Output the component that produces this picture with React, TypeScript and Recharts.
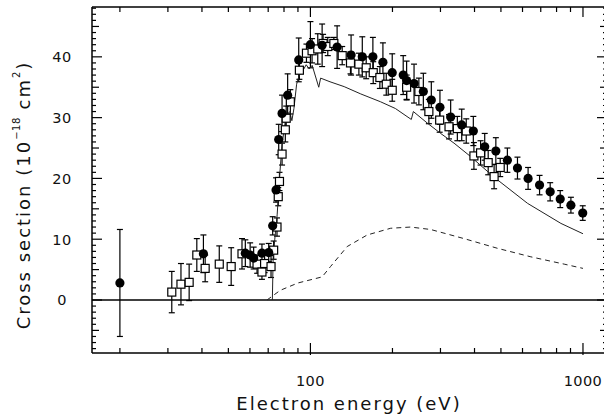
import React from 'react';
import { ComposedChart, Scatter, XAxis, YAxis, ErrorBar, ReferenceLine, Label } from 'recharts';

// filled circles
const circleEnergy = [20, 40.5, 57.7, 60.1, 61.9, 66.4, 70.3, 72.7, 74.8, 76.5, 78.7, 82.5, 90.6, 100, 110.4, 125.3, 141, 155, 169.5, 184.5, 199.6, 219, 225.4, 240, 259.6, 277.7, 298.7, 327, 359, 396, 436, 479, 528, 575, 629, 693, 758, 825, 903, 998];
const circleSigma = [2.8, 7.6, 7.7, 7.4, 6.9, 7.7, 7.8, 12.2, 18.1, 26.4, 30.7, 33.7, 39.5, 42.0, 41.9, 41.6, 40.3, 40.0, 40.0, 39.1, 37.4, 37.0, 36.1, 35.6, 34.3, 32.9, 31.7, 30.1, 28.8, 27.8, 25.2, 24.5, 23.0, 21.7, 20.0, 18.9, 17.8, 16.6, 15.6, 14.3];
const circleErr = [8.8, 3.1, 2.2, 2.0, 1.8, 1.5, 1.5, 1.5, 2.0, 2.5, 3.0, 3.5, 3.6, 3.8, 3.5, 3.5, 3.3, 3.3, 3.2, 3.2, 3.1, 3.2, 3.2, 3.2, 3.0, 3.0, 2.8, 2.8, 2.6, 2.4, 2.2, 2.2, 2.0, 1.8, 1.8, 1.6, 1.5, 1.4, 1.3, 1.2];

// open squares
const squareEnergy = [31.0, 33.5, 35.9, 38.3, 41.1, 46.3, 51.2, 56.1, 63.7, 66.4, 67.9, 71.7, 73.3, 75.4, 76.2, 77.0, 78.7, 80.9, 81.5, 84.4, 91.1, 96.7, 101.4, 106.4, 111.3, 115.8, 121.9, 130.8, 140.3, 150.6, 160.2, 170, 179.8, 189.8, 199.6, 225.4, 250, 272, 298, 322.5, 346, 373, 398, 421, 449, 472, 497];
const squareSigma = [1.3, 2.6, 2.9, 7.4, 5.2, 5.9, 5.5, 7.6, 5.9, 4.6, 6.0, 5.5, 8.2, 12.0, 17.0, 19.5, 24.0, 28.0, 29.9, 32.6, 37.8, 40.6, 41.0, 41.3, 42.2, 41.7, 42.2, 40.2, 39.0, 38.8, 38.2, 37.4, 36.6, 35.5, 34.5, 35.0, 34.3, 31.0, 29.6, 28.5, 28.2, 27.8, 23.7, 24.2, 22.6, 20.3, 21.8];
const squareErr = [3.4, 3.4, 3.0, 2.7, 2.2, 3.0, 3.1, 2.5, 1.5, 1.2, 1.5, 1.8, 1.5, 1.5, 1.5, 1.5, 1.8, 2.0, 2.0, 2.0, 1.5, 1.5, 2.0, 2.5, 1.5, 1.5, 1.0, 1.5, 1.8, 1.8, 1.8, 1.8, 1.8, 1.8, 1.8, 2.0, 2.2, 2.0, 2.0, 2.0, 2.0, 2.0, 2.2, 2.0, 2.0, 2.0, 1.5];

// solid theory curve
const solidEnergy = [72.5, 73, 74, 75.5, 77, 78.5, 80, 82, 84, 85.5, 87, 89, 91, 93.5, 96.5, 99, 101.5, 107.3, 109, 118, 133, 153, 181, 205, 234.5, 238.6, 268.5, 300.5, 336.5, 387, 472, 626, 830, 1000];
const solidSigma = [0, 7, 10, 14, 20, 25, 28, 30.5, 31, 29.5, 31.5, 35.5, 37, 37.6, 38.7, 38.0, 38.6, 35.0, 36.5, 35.9, 35.1, 33.9, 32.6, 31.5, 29.7, 31.0, 29.1, 27.4, 25.8, 23.6, 20.2, 15.9, 12.6, 10.9];

// dashed curve
const dashedEnergy = [69.3, 73.3, 77.6, 90, 110.4, 118.5, 136.5, 161.6, 197, 233, 276, 366, 486, 644, 853, 1000];
const dashedSigma = [0, 0.8, 1.6, 2.8, 3.8, 5.5, 8.8, 10.7, 11.8, 12.0, 11.6, 10.1, 8.5, 7.1, 5.9, 5.2];

const xTicks = [20, 30, 40, 50, 60, 70, 80, 90, 100, 200, 300, 400, 500, 600, 700, 800, 900, 1000];
const xLabels = [100, 1000];
const yLabels = [0, 10, 20, 30, 40];
const yTicks = Array.from({ length: 57 }, (_, i) => i - 8);

const circles = circleEnergy.map((x, i) => ({ x, y: circleSigma[i], e: circleErr[i] }));
const squares = squareEnergy.map((x, i) => ({ x, y: squareSigma[i], e: squareErr[i] }));
const solid = solidEnergy.map((x, i) => ({ x, y: solidSigma[i] }));
const dashed = dashedEnergy.map((x, i) => ({ x, y: dashedSigma[i] }));

const FONT = '"DejaVu Sans", sans-serif';

const yLen = (v: number) => (v % 10 === 0 ? 10 : v % 5 === 0 ? 7 : 4);

const BottomTick = (props: any) => {
  const { x, y, payload } = props;
  const major = xLabels.includes(payload.value);
  return (
    <g>
      <line x1={x} x2={x} y1={major ? y + 2 : y} y2={y - (major ? 10 : 5)} stroke="#000" strokeWidth={1.2} />
      {major && (
        <text x={x} y={y + 33} textAnchor="middle" fontFamily={FONT} fontSize={14.5} fill="#111" letterSpacing={0.4}>
          {payload.value}
        </text>
      )}
    </g>
  );
};

const TopTick = (props: any) => {
  const { x, y, payload } = props;
  const major = xLabels.includes(payload.value);
  return <line x1={x} x2={x} y1={y} y2={y + (major ? 10 : 5)} stroke="#000" strokeWidth={1.2} />;
};

const LeftTick = (props: any) => {
  const { x, y, payload } = props;
  const v = payload.value;
  return (
    <g>
      <line x1={x} x2={x + yLen(v)} y1={y} y2={y} stroke="#000" strokeWidth={1.2} />
      {yLabels.includes(v) && (
        <text x={x - 30} y={y + 5.5} textAnchor="middle" fontFamily={FONT} fontSize={14.5} fill="#111" letterSpacing={0.4}>
          {v}
        </text>
      )}
    </g>
  );
};

const RightTick = (props: any) => {
  const { x, y, payload } = props;
  return <line x1={x} x2={x - yLen(payload.value)} y1={y} y2={y} stroke="#000" strokeWidth={1.2} />;
};

const XTitle = () => (
  <text x={349} y={410} textAnchor="middle" fontFamily={FONT} fontSize={18} fill="#111" letterSpacing={2}>
    Electron energy (eV)
  </text>
);

const YTitle = () => (
  <text x={23} y={195} transform="rotate(-90, 23, 195)" textAnchor="middle" dominantBaseline="central" fontFamily={FONT} fontSize={18} fill="#111" letterSpacing={2}>
    Cross section (10
    <tspan dy={-7} fontSize={10} letterSpacing={0.5}>−18</tspan>
    <tspan dy={7}> cm</tspan>
    <tspan dy={-7} fontSize={10}>2</tspan>
    <tspan dy={7}>)</tspan>
  </text>
);

const OpenSquare = (props: any) => {
  const { cx, cy } = props;
  return <rect x={cx - 4} y={cy - 4} width={8} height={8} fill="#fff" stroke="#000" strokeWidth={1.2} />;
};

const FilledCircle = (props: any) => {
  const { cx, cy } = props;
  return <circle cx={cx} cy={cy} r={4.6} fill="#000" />;
};

const NoDot = () => <g />;

export default function App() {
  return (
    <div style={{ position: 'absolute', left: 0, top: 0, width: 604, height: 420, overflow: 'hidden', background: '#fff' }}>
      <ComposedChart width={616} height={420} margin={{ top: 6, right: 8, bottom: 27, left: 32 }}>
        <XAxis
          xAxisId="b"
          orientation="bottom"
          dataKey="x"
          type="number"
          scale="log"
          domain={[15.8, 1225]}
          allowDataOverflow
          ticks={xTicks}
          interval={0}
          tickSize={0}
          tickMargin={0}
          tickLine={false}
          height={40}
          axisLine={{ stroke: '#000', strokeWidth: 1.5 }}
          tick={<BottomTick />}
        >
          <Label content={XTitle} />
        </XAxis>
        <XAxis
          xAxisId="t"
          orientation="top"
          dataKey="x"
          type="number"
          scale="log"
          domain={[15.8, 1225]}
          allowDataOverflow
          ticks={xTicks}
          interval={0}
          tickSize={0}
          tickMargin={0}
          tickLine={false}
          height={1}
          axisLine={{ stroke: '#000', strokeWidth: 1.5 }}
          tick={<TopTick />}
        />
        <YAxis
          yAxisId="l"
          orientation="left"
          dataKey="y"
          type="number"
          domain={[-8.72, 48.2]}
          allowDataOverflow
          ticks={yTicks}
          interval={0}
          tickSize={0}
          tickMargin={0}
          tickLine={false}
          width={60}
          axisLine={{ stroke: '#000', strokeWidth: 1.5 }}
          tick={<LeftTick />}
        >
          <Label content={YTitle} />
        </YAxis>
        <YAxis
          yAxisId="r"
          orientation="right"
          dataKey="y"
          type="number"
          domain={[-8.72, 48.2]}
          allowDataOverflow
          ticks={yTicks}
          interval={0}
          tickSize={0}
          tickMargin={0}
          tickLine={false}
          width={1}
          axisLine={{ stroke: '#000', strokeWidth: 1.5 }}
          tick={<RightTick />}
        />
        <ReferenceLine xAxisId="b" yAxisId="l" y={0} stroke="#000" strokeWidth={1.5} />
        <Scatter
          xAxisId="b"
          yAxisId="l"
          data={dashed}
          line={{ stroke: '#222', strokeWidth: 1, strokeDasharray: '5 4' }}
          lineType="joint"
          shape={NoDot}
          isAnimationActive={false}
        />
        <Scatter
          xAxisId="b"
          yAxisId="l"
          data={solid}
          line={{ stroke: '#222', strokeWidth: 1 }}
          lineType="joint"
          shape={NoDot}
          isAnimationActive={false}
        />
        <Scatter xAxisId="b" yAxisId="l" data={squares} shape={OpenSquare} isAnimationActive={false}>
          <ErrorBar dataKey="e" direction="y" width={3} stroke="#000" strokeWidth={1.2} />
        </Scatter>
        <Scatter xAxisId="b" yAxisId="l" data={circles} shape={FilledCircle} isAnimationActive={false}>
          <ErrorBar dataKey="e" direction="y" width={3} stroke="#000" strokeWidth={1.2} />
        </Scatter>
      </ComposedChart>
    </div>
  );
}
